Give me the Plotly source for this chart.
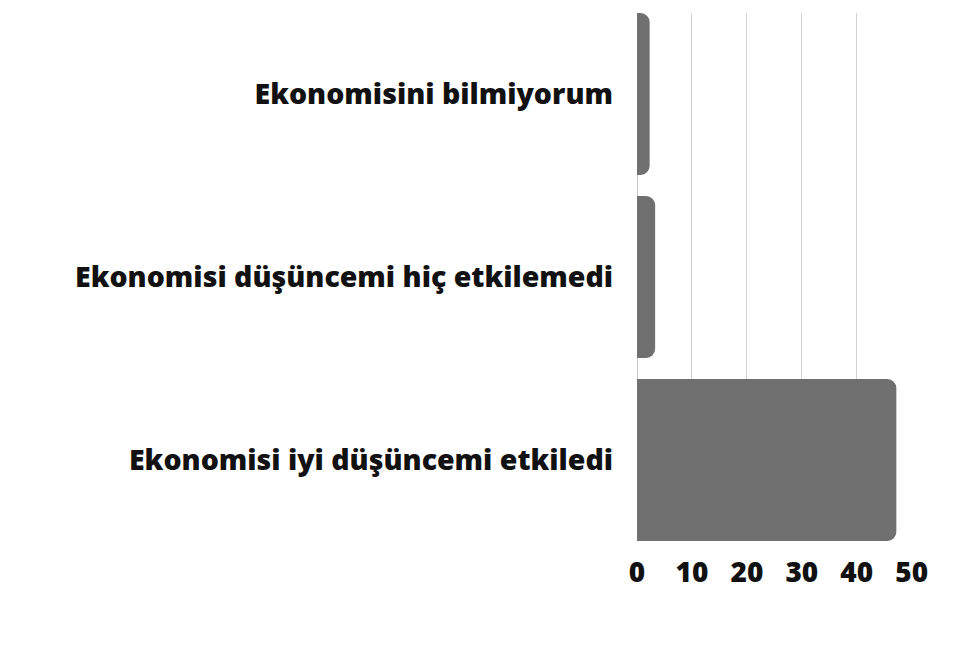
import plotly.graph_objects as go

categories = [
    "Ekonomisini bilmiyorum",
    "Ekonomisi düşüncemi hiç etkilemedi",
    "Ekonomisi iyi düşüncemi etkiledi",
]
values = [2.3, 3.3, 47.2]
tick_values = [0, 10, 20, 30, 40, 50]
tick_labels = ["0", "10", "20", "30", "40", "50"]

bargap = 0.115
w = 1 - bargap

fig = go.Figure(
    go.Bar(
        x=values,
        y=categories,
        orientation="h",
        marker=dict(color="#707070", cornerradius=9, line=dict(width=0)),
        hoverinfo="x+y",
    )
)

fig.update_layout(
    width=960,
    height=651,
    margin=dict(l=629, r=56, t=5, b=118),
    paper_bgcolor="white",
    plot_bgcolor="white",
    bargap=bargap,
    showlegend=False,
    font=dict(family="Open Sans", color="#111111"),
)

fig.update_xaxes(
    range=[0, 50.05],
    tickvals=tick_values,
    ticktext=tick_labels,
    showgrid=True,
    gridcolor="#d2d2d2",
    gridwidth=1,
    zeroline=True,
    zerolinecolor="#c8c8c8",
    zerolinewidth=1,
    showline=False,
    ticks="",
    tickfont=dict(family="Open Sans", size=28, color="#111111", weight=800),
    ticklabelstandoff=12,
)

fig.update_yaxes(
    categoryorder="array",
    categoryarray=categories,
    range=[2 + w / 2, -w / 2],
    showgrid=False,
    zeroline=False,
    showline=False,
    ticks="",
    tickfont=dict(family="Open Sans", size=28.5, color="#111111", weight=800),
    ticklabelstandoff=23,
)

fig.write_html("out.html")
